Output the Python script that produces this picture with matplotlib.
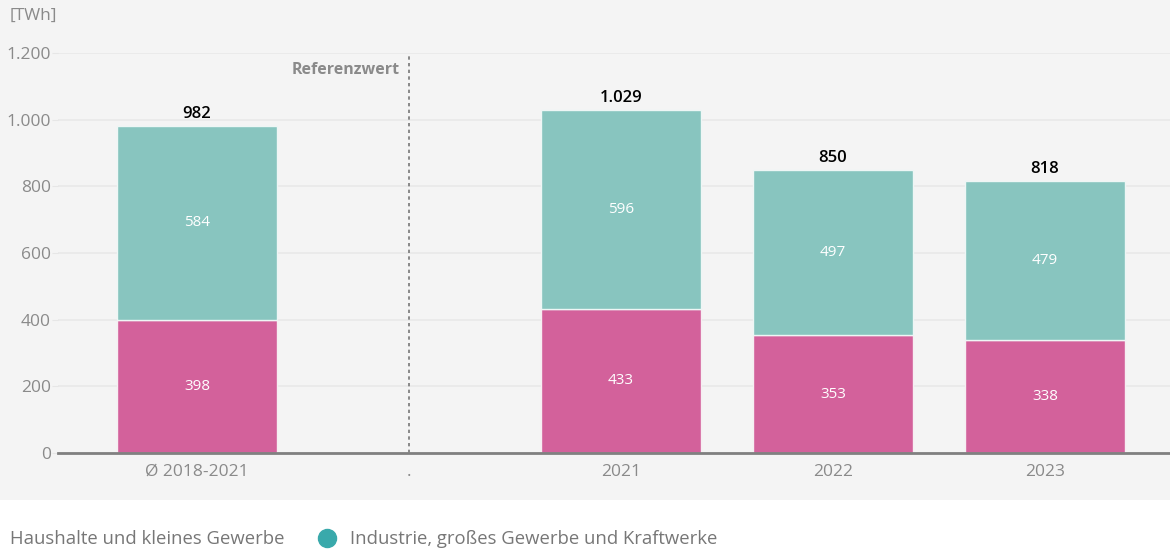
import matplotlib.pyplot as plt
from matplotlib.patches import Rectangle
from matplotlib.lines import Line2D

# --- Data ---
categories = ["Ø 2018-2021", ".", "2021", "2022", "2023"]
haushalte = [398, 0, 433, 353, 338]
industrie = [584, 0, 596, 497, 479]
totals = ["982", "", "1.029", "850", "818"]
y_ticks = [0, 200, 400, 600, 800, 1000, 1200]
y_tick_labels = ["0", "200", "400", "600", "800", "1.000", "1.200"]

PINK = "#d3619b"
TEAL = "#88c5bf"
TEAL_DARK = "#39a9ab"
BG = "#f4f4f4"
GREY_TXT = "#8a8a8a"

plt.rcParams['font.family'] = ['Open Sans', 'DejaVu Sans']

fig = plt.figure(figsize=(11.7, 5.49), dpi=100)
fig.patch.set_facecolor("white")
# grey panel behind the chart
fig.patches.append(Rectangle((0, 49 / 549), 1, 500 / 549, transform=fig.transFigure,
                             facecolor=BG, edgecolor="none", zorder=-10))

ax = fig.add_axes([58 / 1170, (549 - 453) / 549, 1112 / 1170, 400 / 549])
ax.set_facecolor("none")
ax.set_zorder(2)

x = list(range(len(categories)))
width = 0.755
bottom_bars = ax.bar(x, haushalte, width=width, color=PINK, edgecolor="#f6eef2", linewidth=1.0, zorder=3)
top_bars = ax.bar(x, industrie, width=width, bottom=haushalte, color=TEAL, edgecolor="#eef6f5",
                  linewidth=1.0, zorder=3)

for i in x:
    if haushalte[i] == 0:
        continue
    ax.text(i, haushalte[i] / 2, str(haushalte[i]), ha="center", va="center",
            color="white", fontsize=11, fontweight="medium", zorder=4)
    ax.text(i, haushalte[i] + industrie[i] / 2, str(industrie[i]), ha="center", va="center",
            color="white", fontsize=11, fontweight="medium", zorder=4)
    ax.text(i, haushalte[i] + industrie[i] + 12, totals[i], ha="center", va="bottom",
            color="black", fontsize=12, fontweight="semibold", zorder=4)

# reference separator
ax.plot([1, 1], [0, 1200], color="#777777", linestyle=(0, (2, 2)), linewidth=1.2, zorder=2)
ax.text(0.955, 1150, "Referenzwert", ha="right", va="center", color=GREY_TXT,
        fontsize=11.5, fontweight="bold")

ax.set_xlim(-0.656, 4.59)
ax.set_ylim(0, 1200)
ax.set_yticks(y_ticks)
ax.set_yticklabels(y_tick_labels)
ax.set_xticks(x)
ax.set_xticklabels(categories)
ax.tick_params(axis="y", length=4, color="#e6e6e6", labelcolor=GREY_TXT, labelsize=12.5, pad=1)
ax.tick_params(axis="x", length=0, labelcolor=GREY_TXT, labelsize=12.5, pad=8)
ax.grid(axis="y", color="#e8e8e8", linewidth=1.2, zorder=0)
ax.set_axisbelow(True)
for s in ["top", "right", "left"]:
    ax.spines[s].set_visible(False)
ax.spines["bottom"].set_color("#808080")
ax.spines["bottom"].set_linewidth(2)
ax.spines["bottom"].set_zorder(5)

fig.text(10 / 1170, 1 - 16 / 549, "[TWh]", ha="left", va="center", color=GREY_TXT, fontsize=12.5)

# legend
fig.text(10 / 1170, 1 - 539 / 549, "Haushalte und kleines Gewerbe", ha="left", va="center",
         color="#777777", fontsize=13.3)
fig.add_artist(Line2D([327 / 1170], [1 - 538 / 549], marker="o", markersize=13,
                      color=TEAL_DARK, transform=fig.transFigure, linestyle="none"))
fig.text(350 / 1170, 1 - 539 / 549, "Industrie, großes Gewerbe und Kraftwerke", ha="left",
         va="center", color="#777777", fontsize=13.3)

fig.savefig("out.png", dpi=100)
